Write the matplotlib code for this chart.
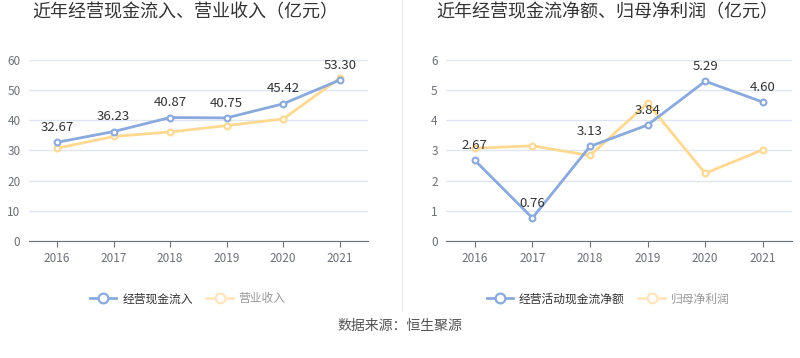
import matplotlib.pyplot as plt
from matplotlib.lines import Line2D

plt.rcParams["font.family"] = ["Noto Sans CJK SC", "DejaVu Sans"]

years = ["2016", "2017", "2018", "2019", "2020", "2021"]
cash_inflow = [32.67, 36.23, 40.87, 40.75, 45.42, 53.30]
revenue = [30.7, 34.6, 36.1, 38.2, 40.4, 53.9]
net_cash = [2.67, 0.76, 3.13, 3.84, 5.29, 4.60]
net_profit = [3.07, 3.15, 2.83, 4.56, 2.24, 3.02]

BLUE = "#8AA9DC"
YELLOW = "#FFD891"
GRID = "#E0E6F1"
TICK = "#6E7079"


def draw(ax, blue, yellow, ymax, title, names, title_x, legend_x):
    x = range(len(years))
    ax.plot(x, blue, color=BLUE, lw=2, marker="o", ms=4.2, mfc="white", mew=1.5, zorder=4)
    ax.plot(x, yellow, color=YELLOW, lw=2, marker="o", ms=4.2, mfc="white", mew=1.5, zorder=3)
    for i, v in enumerate(blue):
        ax.annotate(f"{v:.2f}", (i, v), xytext=(0, 6), textcoords="offset points",
                    ha="center", va="bottom", fontsize=9.5, color="#333333", zorder=5)
    ax.set_xlim(-0.5, len(years) - 0.5)
    ax.set_ylim(0, ymax)
    ax.set_xticks(list(x))
    ax.set_xticklabels(years)
    step = ymax // 6
    ax.set_yticks(range(0, ymax + 1, step))
    ax.grid(axis="y", color=GRID, lw=1)
    ax.set_axisbelow(True)
    for s in ["top", "right", "left"]:
        ax.spines[s].set_visible(False)
    ax.spines["bottom"].set_color("#6E7079")
    ax.tick_params(axis="y", length=0, colors=TICK, labelsize=8.5, pad=6)
    ax.tick_params(axis="x", length=4, color="#6E7079", colors=TICK, labelsize=8.5, pad=4)
    fig = ax.figure
    fig.text(title_x, 0.965, title, ha="center", va="center", fontsize=13, color="#333333")
    handles = [
        Line2D([], [], color=BLUE, lw=2, marker="o", ms=7, mfc="white", mew=1.6),
        Line2D([], [], color="#FFE6BE", lw=2, marker="o", ms=7, mfc="white", mew=1.6),
    ]
    leg = fig.legend(handles, names, loc="center", bbox_to_anchor=(legend_x, 0.165), ncol=2,
                     frameon=False, fontsize=8.5, handlelength=2.2, columnspacing=1.2,
                     handletextpad=0.5)
    leg.get_texts()[0].set_color("#333333")
    leg.get_texts()[1].set_color("#999999")


fig = plt.figure(figsize=(8, 3.58), dpi=100)
ax1 = fig.add_axes([0.036, 0.327, 0.424, 0.506])
ax2 = fig.add_axes([0.5575, 0.327, 0.432, 0.506])

draw(ax1, cash_inflow, revenue, 60, "近年经营现金流入、营业收入（亿元）",
     ["经营现金流入", "营业收入"], 0.231, 0.235)
draw(ax2, net_cash, net_profit, 6, "近年经营现金流净额、归母净利润（亿元）",
     ["经营活动现金流净额", "归母净利润"], 0.759, 0.76)

fig.add_artist(Line2D([0.503, 0.503], [0.13, 1.0], color="#EEEEEE", lw=1))
fig.text(0.5, 0.09, "数据来源：恒生聚源", ha="center", va="center", fontsize=10, color="#555555")

fig.savefig("out.png", dpi=100)
